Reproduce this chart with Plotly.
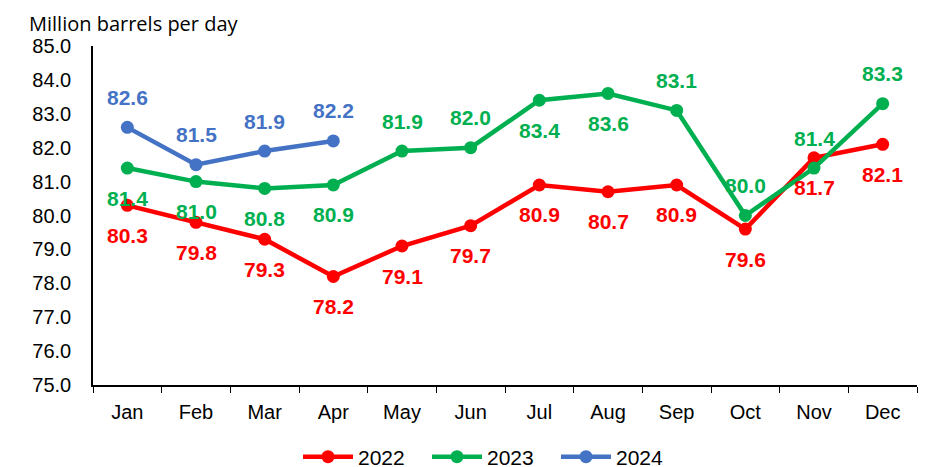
import plotly.graph_objects as go

months = ["Jan", "Feb", "Mar", "Apr", "May", "Jun", "Jul", "Aug", "Sep", "Oct", "Nov", "Dec"]
y2022 = [80.3, 79.8, 79.3, 78.2, 79.1, 79.7, 80.9, 80.7, 80.9, 79.6, 81.7, 82.1]
y2023 = [81.4, 81.0, 80.8, 80.9, 81.9, 82.0, 83.4, 83.6, 83.1, 80.0, 81.4, 83.3]
y2024 = [82.6, 81.5, 81.9, 82.2]

# label side: +1 above, -1 below
pos2022 = [-1] * 12
pos2023 = [-1, -1, -1, -1, 1, 1, -1, -1, 1, 1, 1, 1]
pos2024 = [1, 1, 1, 1]

series = [
    ("2022", y2022, pos2022, "#FF0000"),
    ("2023", y2023, pos2023, "#00B050"),
    ("2024", y2024, pos2024, "#4472C4"),
]

W, H = 926, 467
OFF = 8  # page body margin
ml, mr, mt, mb = 93 - OFF, 9 + OFF, 46 - OFF, 82 + OFF
pw, ph = W - ml - mr, H - mt - mb

fig = go.Figure()
annotations = []
for name, vals, pos, color in series:
    fig.add_trace(go.Scatter(
        x=months[:len(vals)], y=vals, name=name, mode="lines+markers",
        line=dict(color=color, width=4.5),
        marker=dict(color=color, size=13),
    ))
    for m, v, p in zip(months, vals, pos):
        annotations.append(dict(
            x=m, y=v, xref="x", yref="y", text=f"<b>{v:.1f}</b>", showarrow=False,
            yshift=30 * p, font=dict(family="Liberation Sans, Arial", size=21, color=color),
            xanchor="center", yanchor="middle",
        ))

annotations.append(dict(
    x=(27 - OFF - ml) / pw, y=(H - mb) / ph, xref="paper", yref="paper",
    text="Million barrels per day",
    showarrow=False, xanchor="left", yanchor="top",
    font=dict(family="Open Sans, Noto Sans", size=20, color="#000000"),
))

fig.update_layout(
    width=W, height=H,
    margin=dict(l=ml, r=mr, t=mt, b=mb, autoexpand=False),
    plot_bgcolor="white", paper_bgcolor="white",
    showlegend=True,
    legend=dict(orientation="h", x=(298 - OFF - ml) / pw, xanchor="left",
                y=-(457 - OFF - (H - mb)) / ph, yanchor="middle",
                font=dict(family="Liberation Sans, Arial", size=21, color="#000000"),
                itemwidth=50, entrywidth=64, tracegroupgap=0),
    annotations=annotations,
    xaxis=dict(
        categoryorder="array", categoryarray=months, range=[-0.5, 11.5],
        showline=True, linecolor="#000000", linewidth=1.5,
        ticks="outside", tickson="boundaries", ticklen=6, tickcolor="#000000",
        showgrid=False, zeroline=False, ticklabelstandoff=8,
        tickfont=dict(family="Liberation Sans, Arial", size=20, color="#000000"),
    ),
    yaxis=dict(
        range=[75, 85], dtick=1, tickformat=".1f",
        showline=True, linecolor="#000000", linewidth=1.5,
        ticks="", showgrid=False, zeroline=False, ticklabelstandoff=16,
        tickfont=dict(family="Liberation Sans, Arial", size=20, color="#000000"),
    ),
)

fig.write_html("out.html")
